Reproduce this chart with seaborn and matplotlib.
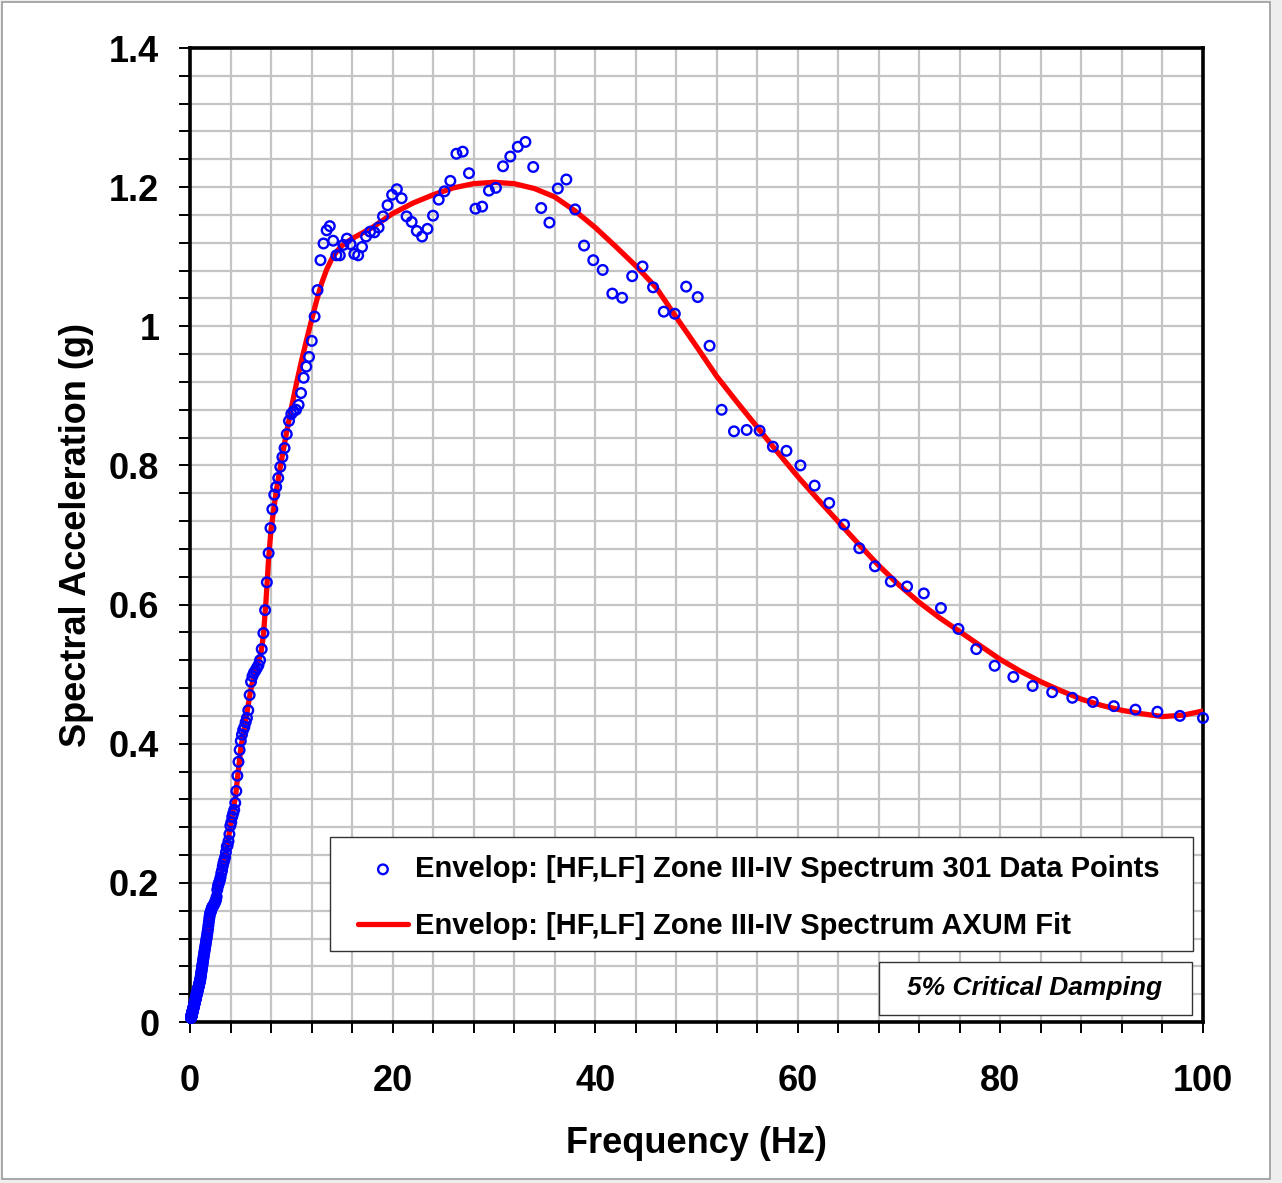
import matplotlib
matplotlib.use("Agg")
import matplotlib.pyplot as plt
from matplotlib.patches import Rectangle
import numpy as np
import pandas as pd
import seaborn as sns

# ---------------- data ----------------
freq_a = [0.1, 0.1023, 0.1047, 0.1072, 0.1096, 0.1122, 0.1148, 0.1175, 0.1202, 0.1230,
          0.1259, 0.1288, 0.1318, 0.1349, 0.1380, 0.1413, 0.1445, 0.1479, 0.1514, 0.1549,
          0.1585, 0.1622, 0.1660, 0.1698, 0.1738, 0.1778, 0.1820, 0.1862, 0.1905, 0.1950,
          0.1995, 0.2042, 0.2089, 0.2138, 0.2188, 0.2239, 0.2291, 0.2344, 0.2399, 0.2455,
          0.2512, 0.2570, 0.2630, 0.2692, 0.2754, 0.2818, 0.2884, 0.2951, 0.3020, 0.3090,
          0.3162, 0.3236, 0.3311, 0.3388, 0.3467, 0.3548, 0.3631, 0.3715, 0.3802, 0.3890,
          0.3981, 0.4074, 0.4169, 0.4266, 0.4365, 0.4467, 0.4571, 0.4677, 0.4786, 0.4898,
          0.5012, 0.5129, 0.5248, 0.5370, 0.5495, 0.5623, 0.5754, 0.5888, 0.6026, 0.6166,
          0.6310, 0.6457, 0.6607, 0.6761, 0.6918, 0.7079, 0.7244, 0.7413, 0.7586, 0.7762,
          0.7943, 0.8128, 0.8318, 0.8511, 0.8710, 0.8913, 0.9120, 0.9333, 0.9550, 0.9772]
accel_a = [0.006, 0.006, 0.006, 0.006, 0.007, 0.007, 0.007, 0.007, 0.007, 0.007,
           0.008, 0.008, 0.008, 0.008, 0.008, 0.008, 0.009, 0.009, 0.009, 0.009,
           0.010, 0.010, 0.010, 0.010, 0.010, 0.011, 0.011, 0.011, 0.011, 0.012,
           0.012, 0.012, 0.013, 0.013, 0.013, 0.013, 0.014, 0.014, 0.014, 0.015,
           0.015, 0.015, 0.016, 0.016, 0.017, 0.017, 0.017, 0.018, 0.018, 0.019,
           0.019, 0.019, 0.020, 0.020, 0.021, 0.021, 0.022, 0.022, 0.023, 0.023,
           0.024, 0.024, 0.025, 0.026, 0.026, 0.027, 0.027, 0.028, 0.029, 0.029,
           0.030, 0.031, 0.031, 0.032, 0.033, 0.034, 0.035, 0.035, 0.036, 0.037,
           0.038, 0.039, 0.040, 0.041, 0.042, 0.042, 0.043, 0.044, 0.046, 0.047,
           0.048, 0.049, 0.050, 0.051, 0.052, 0.053, 0.055, 0.056, 0.057, 0.059]

freq_b = [1.000, 1.023, 1.047, 1.072, 1.096, 1.122, 1.148, 1.175, 1.202, 1.230,
          1.259, 1.288, 1.318, 1.349, 1.380, 1.413, 1.445, 1.479, 1.514, 1.549,
          1.585, 1.622, 1.660, 1.698, 1.738, 1.778, 1.820, 1.862, 1.905, 1.950,
          1.995, 2.042, 2.089, 2.138, 2.188, 2.239, 2.291, 2.344, 2.399, 2.455,
          2.512, 2.570, 2.630, 2.692, 2.754, 2.818, 2.884, 2.951, 3.020, 3.090,
          3.162, 3.236, 3.311, 3.388, 3.467, 3.548, 3.631, 3.715, 3.802, 3.890,
          3.981, 4.074, 4.169, 4.266, 4.365, 4.467, 4.571, 4.677, 4.786, 4.898,
          5.012, 5.129, 5.248, 5.370, 5.495, 5.623, 5.754, 5.888, 6.026, 6.166,
          6.310, 6.457, 6.607, 6.761, 6.918, 7.079, 7.244, 7.413, 7.586, 7.762,
          7.943, 8.128, 8.318, 8.511, 8.710, 8.913, 9.120, 9.333, 9.550, 9.772]
accel_b = [0.060, 0.062, 0.064, 0.067, 0.069, 0.072, 0.074, 0.077, 0.080, 0.082,
           0.085, 0.088, 0.091, 0.094, 0.097, 0.100, 0.103, 0.106, 0.109, 0.112,
           0.116, 0.119, 0.122, 0.126, 0.130, 0.134, 0.139, 0.144, 0.149, 0.153,
           0.157, 0.158, 0.160, 0.163, 0.165, 0.166, 0.167, 0.168, 0.170, 0.172,
           0.173, 0.176, 0.180, 0.190, 0.195, 0.198, 0.201, 0.204, 0.208, 0.214,
           0.218, 0.224, 0.229, 0.233, 0.237, 0.244, 0.252, 0.254, 0.260, 0.270,
           0.282, 0.287, 0.295, 0.300, 0.305, 0.315, 0.332, 0.354, 0.374, 0.391,
           0.404, 0.413, 0.420, 0.424, 0.431, 0.437, 0.448, 0.470, 0.489, 0.497,
           0.502, 0.505, 0.509, 0.513, 0.520, 0.536, 0.559, 0.592, 0.632, 0.674,
           0.710, 0.737, 0.758, 0.769, 0.782, 0.798, 0.812, 0.825, 0.845, 0.864]

freq_c = [10.00, 10.23, 10.47, 10.72, 10.96, 11.22, 11.48, 11.75, 12.02, 12.30,
          12.59, 12.88, 13.18, 13.49, 13.80, 14.13, 14.45, 14.79, 15.14, 15.49,
          15.85, 16.22, 16.60, 16.98, 17.38, 17.78, 18.20, 18.62, 19.05, 19.50,
          19.95, 20.42, 20.89, 21.38, 21.88, 22.39, 22.91, 23.44, 23.99, 24.55,
          25.12, 25.70, 26.30, 26.92, 27.54, 28.18, 28.84, 29.51, 30.20, 30.90,
          31.62, 32.36, 33.11, 33.88, 34.67, 35.48, 36.31, 37.15, 38.02, 38.90,
          39.81, 40.74, 41.69, 42.66, 43.65, 44.67, 45.71, 46.77, 47.86, 48.98,
          50.12, 51.29, 52.48, 53.70, 54.95, 56.23, 57.54, 58.88, 60.26, 61.66,
          63.10, 64.57, 66.07, 67.61, 69.18, 70.79, 72.44, 74.13, 75.86, 77.62,
          79.43, 81.28, 83.18, 85.11, 87.10, 89.13, 91.20, 93.33, 95.50, 97.72,
          100.0]
accel_c = [0.874, 0.878, 0.880, 0.887, 0.904, 0.926, 0.942, 0.956, 0.979, 1.014,
           1.052, 1.095, 1.119, 1.138, 1.144, 1.123, 1.102, 1.102, 1.117, 1.126,
           1.118, 1.104, 1.102, 1.114, 1.129, 1.136, 1.135, 1.142, 1.158, 1.174,
           1.189, 1.197, 1.184, 1.158, 1.150, 1.137, 1.129, 1.140, 1.159, 1.182,
           1.194, 1.209, 1.248, 1.251, 1.220, 1.169, 1.172, 1.195, 1.199, 1.230,
           1.244, 1.258, 1.265, 1.229, 1.170, 1.149, 1.198, 1.211, 1.168, 1.116,
           1.095, 1.081, 1.047, 1.041, 1.072, 1.086, 1.056, 1.021, 1.018, 1.057,
           1.042, 0.972, 0.880, 0.849, 0.851, 0.850, 0.827, 0.821, 0.800, 0.771,
           0.746, 0.715, 0.681, 0.655, 0.633, 0.626, 0.616, 0.595, 0.565, 0.536,
           0.512, 0.496, 0.483, 0.474, 0.466, 0.460, 0.454, 0.449, 0.446, 0.440,
           0.437]

fit_freq = [0, 0.5, 1, 1.5, 2, 2.5, 3, 3.5, 4, 4.5, 5, 5.5, 6, 6.5, 7, 7.25, 7.5, 7.75,
            8, 8.5, 9, 9.5, 10, 10.5, 11, 11.5, 12, 12.5, 13, 13.5, 14, 14.5, 15, 16, 17,
            18, 19, 20, 22, 24, 26, 28, 30, 32, 34, 36, 38, 40, 42, 44, 46, 48, 50, 52,
            54, 56, 58, 60, 62, 64, 66, 68, 70, 72, 74, 76, 78, 80, 82, 84, 86, 88, 90,
            92, 94, 96, 98, 100]
fit_accel = [0.0, 0.030, 0.060, 0.108, 0.152, 0.177, 0.206, 0.240, 0.282, 0.325, 0.392,
             0.434, 0.478, 0.508, 0.530, 0.556, 0.605, 0.664, 0.708, 0.762, 0.805, 0.845,
             0.882, 0.917, 0.950, 0.980, 1.009, 1.037, 1.062, 1.082, 1.097, 1.108, 1.116,
             1.126, 1.134, 1.142, 1.152, 1.162, 1.177, 1.189, 1.199, 1.205, 1.207, 1.205,
             1.198, 1.186, 1.166, 1.142, 1.115, 1.087, 1.056, 1.013, 0.971, 0.928, 0.891,
             0.855, 0.819, 0.784, 0.751, 0.719, 0.687, 0.656, 0.628, 0.603, 0.581, 0.561,
             0.541, 0.521, 0.504, 0.489, 0.476, 0.464, 0.455, 0.448, 0.443, 0.439, 0.441,
             0.447]

x_ticks = [0, 20, 40, 60, 80, 100]
x_tick_labels = ["0", "20", "40", "60", "80", "100"]
y_ticks = [0, 0.2, 0.4, 0.6, 0.8, 1.0, 1.2, 1.4]
y_tick_labels = ["0", "0.2", "0.4", "0.6", "0.8", "1", "1.2", "1.4"]

label_points = "Envelop: [HF,LF] Zone III-IV Spectrum 301 Data Points"
label_fit = "Envelop: [HF,LF] Zone III-IV Spectrum AXUM Fit"
x_title = "Frequency (Hz)"
y_title = "Spectral Acceleration (g)"
note_text = "5% Critical Damping"

# ---------------- figure ----------------
sns.set_style("ticks")
plt.rcParams["font.family"] = ["Liberation Sans", "DejaVu Sans"]
plt.rcParams["font.weight"] = "bold"
for key in ["text.color", "axes.labelcolor", "xtick.color", "ytick.color",
            "xtick.labelcolor", "ytick.labelcolor"]:
    plt.rcParams[key] = "black"

W, H = 1282, 1183
fig = plt.figure(figsize=(W / 100, H / 100), dpi=100, facecolor="#eeeeee")
# white page with thin grey frame (drawn underneath the axes)
fig.patches.append(Rectangle((2 / W, 4 / H), 1268 / W, 1177 / H, transform=fig.transFigure,
                             facecolor="white", edgecolor="#9a9a9a", lw=1.2, zorder=-10))

ax = fig.add_axes([190 / W, (H - 1022) / H, 1013 / W, 974 / H])
ax.set_zorder(5)
ax.set_facecolor("white")

df_pts = pd.DataFrame({"freq": freq_a + freq_b + freq_c,
                       "accel": accel_a + accel_b + accel_c})
df_fit = pd.DataFrame({"freq": fit_freq, "accel": fit_accel})

sns.lineplot(data=df_fit, x="freq", y="accel", color="#ff0000", lw=3.8, ax=ax,
             label=label_fit, zorder=3, solid_capstyle="round", solid_joinstyle="round")
sns.scatterplot(data=df_pts, x="freq", y="accel", ax=ax, marker="o", s=48,
                label=label_points, zorder=4, clip_on=False)
sc = ax.collections[-1]
sc.set_facecolor("none")
sc.set_edgecolor("#0000ff")
sc.set_linewidth(1.7)

ax.set_xlim(0, 100)
ax.set_ylim(0, 1.4)
ax.set_xticks(x_ticks, labels=x_tick_labels)
ax.set_yticks(y_ticks, labels=y_tick_labels)
ax.set_xticks(np.arange(0, 100.1, 4), minor=True)
ax.set_yticks(np.arange(0, 1.401, 0.04), minor=True)
ax.set_axisbelow(True)
ax.grid(which="both", color="#c4c4c4", lw=1.6)
ax.tick_params(which="both", direction="out", length=8, width=1.4, color="black")
ax.tick_params(axis="y", which="major", pad=14, labelsize=26, labelcolor="black")
ax.tick_params(axis="x", which="major", pad=22, labelsize=26, labelcolor="black")
for lab in ax.get_xticklabels() + ax.get_yticklabels():
    lab.set_fontweight("bold")
for sp in ax.spines.values():
    sp.set_visible(True)
    sp.set_color("black")
    sp.set_linewidth(2.6)

ax.set_xlabel(x_title, fontsize=26, fontweight="bold", labelpad=20, color="black")
ax.set_ylabel(y_title, fontsize=26, fontweight="bold", labelpad=11, color="black")

# legend: frame drawn as a rectangle, entries placed inside it
ax.add_patch(Rectangle(((330 - 190) / 1013, (1022 - 951) / 974), 863 / 1013, 114 / 974,
                       transform=ax.transAxes, facecolor="white", edgecolor="#333333",
                       lw=1.0, zorder=6))
handles, labels = ax.get_legend_handles_labels()
order = [labels.index(label_points), labels.index(label_fit)]
leg = ax.legend([handles[i] for i in order], [labels[i] for i in order],
                loc="upper left", bbox_to_anchor=((358 - 190) / 1013, (1022 - 855) / 974),
                frameon=False, prop={"family": ["Liberation Sans"], "weight": "bold",
                                     "size": 21},
                handlelength=1.71, handletextpad=0.24, borderpad=0.0,
                labelspacing=0.99, borderaxespad=0)
for t in leg.get_texts():
    t.set_color("black")
leg.set_zorder(7)

# damping note box
ax.add_patch(Rectangle(((879 - 190) / 1013, (1022 - 1015) / 974), 313 / 1013, 53 / 974,
                       transform=ax.transAxes, facecolor="white", edgecolor="#333333",
                       lw=1.0, zorder=6))
ax.text((1035 - 190) / 1013, (1022 - 988) / 974, note_text, transform=ax.transAxes,
        ha="center", va="center", fontsize=19, fontweight="bold", fontstyle="italic",
        color="black", zorder=7)

fig.savefig("out.png", dpi=100, facecolor=fig.get_facecolor())
